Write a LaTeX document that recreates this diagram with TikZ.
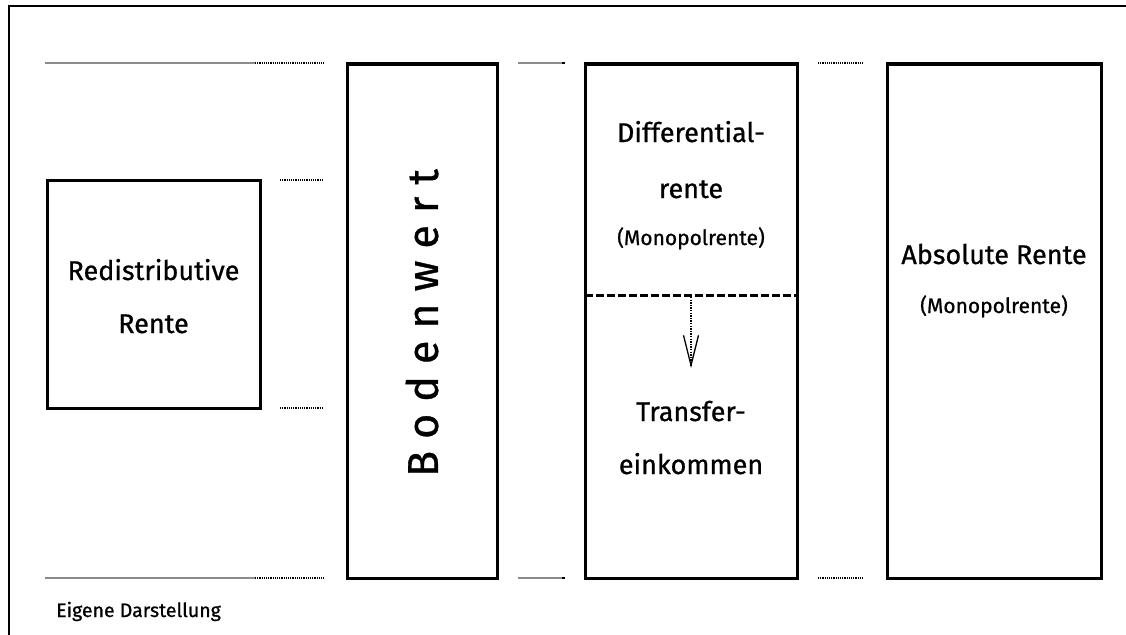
\documentclass[tikz,border=0pt]{standalone}
\usepackage{fontspec}
\setmainfont{Fira Sans}
\newfontfamily\heavyfont{Fira Sans}[FakeBold=0.8]
\usetikzlibrary{arrows.meta}
\begin{document}
\begin{tikzpicture}[x=1pt,y=-1pt,
  box/.style={draw, line width=3pt, inner sep=0pt},
  txt/.style={anchor=base, inner sep=0pt, font=\heavyfont\fontsize{27}{27}\selectfont},
  small/.style={anchor=base, inner sep=0pt, font=\heavyfont\fontsize{21}{21}\selectfont},
  guide/.style={line width=1.6pt, draw=black!45},
  dots/.style={line width=1.6pt, dash pattern=on 1.2pt off 1pt},
  frame/.style={line width=2.8pt},
]
\useasboundingbox (0,0) rectangle (1126,634);
% outer frame (right and bottom cut off)
\coordinate (f1) at (9,640);
\coordinate (f2) at (9,6);
\coordinate (f3) at (1130,6);
\draw[frame] (f1) -- (f2) -- (f3);

% boxes
\node[box, minimum width=213pt, minimum height=228pt] (redis) at (153.5,294) {};
\node[box, minimum width=150pt, minimum height=514pt] (boden) at (422,321) {};
\node[box, minimum width=212pt, minimum height=514pt] (diff) at (691,321) {};
\node[box, minimum width=214pt, minimum height=514pt] (abs) at (994,321) {};

% guide lines
\coordinate (g1a) at (45,63);  \coordinate (g1b) at (255,63);  \coordinate (g1c) at (324,63);
\coordinate (g2a) at (45,578); \coordinate (g2b) at (255,578); \coordinate (g2c) at (324,578);
\draw[guide] (g1a) -- (g1b); \draw[dots] (g1b) -- (g1c);
\draw[guide] (g2a) -- (g2b); \draw[dots] (g2b) -- (g2c);
\coordinate (h1a) at (280,180); \coordinate (h1b) at (323,180);
\coordinate (h2a) at (280,408); \coordinate (h2b) at (323,408);
\draw[dots] (h1a) -- (h1b); \draw[dots] (h2a) -- (h2b);
\coordinate (m1a) at (518,63);  \coordinate (m1b) at (562,63);  \coordinate (m1c) at (565,63);
\coordinate (m2a) at (518,578); \coordinate (m2b) at (562,578); \coordinate (m2c) at (565,578);
\draw[guide] (m1a) -- (m1b); \draw[line width=1.6pt] (m1b) -- (m1c);
\draw[guide] (m2a) -- (m2b); \draw[line width=1.6pt] (m2b) -- (m2c);
\coordinate (r1a) at (818,63);  \coordinate (r1b) at (864,63);
\coordinate (r2a) at (818,578); \coordinate (r2b) at (864,578);
\draw[dots] (r1a) -- (r1b); \draw[dots] (r2a) -- (r2b);

% dashed divider and arrow
\coordinate (dl) at (585,295); \coordinate (dr) at (797,295);
\draw[line width=3pt, dash pattern=on 8pt off 3pt] (dl) -- (dr);
\coordinate (as) at (691,297); \coordinate (ae) at (691,368);
\draw[line width=1.3pt, dash pattern=on 1.3pt off 1.3pt,
  -{Straight Barb[length=30pt,width=15pt,line width=1.3pt]}] (as) -- (ae);

% texts
\node[txt] (t1) at (153.5,280) {Redistributive};
\node[txt] (t2) at (153.5,333) {Rente};
\node[txt] (t3) at (691,142) {Differential-};
\node[txt] (t4) at (691,198) {rente};
\node[small] (t5) at (691,245) {(Monopolrente)};
\node[txt] (t6) at (691,421) {Transfer-};
\node[txt] (t7) at (691,474) {einkommen};
\node[txt] (t8) at (994,264) {Absolute Rente};
\node[small] (t9) at (994,313) {(Monopolrente)};
\node[inner sep=0pt, rotate=90, font=\heavyfont\fontsize{43}{43}\selectfont] (bw) at (422,323)
  {B\kern12pt o\kern12pt d\kern12pt e\kern12pt n\kern12pt w\kern12pt e\kern12pt r\kern12pt t};
\node[anchor=base west, inner sep=0pt, font=\heavyfont\fontsize{19.5}{19.5}\selectfont] (src) at (56,617) {Eigene Darstellung};
\end{tikzpicture}
\end{document}
